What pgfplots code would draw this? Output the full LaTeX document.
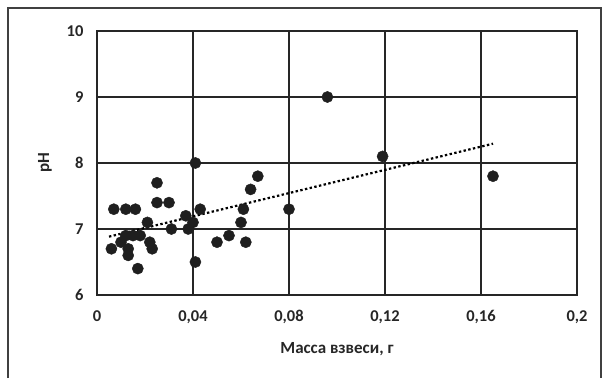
\documentclass[border=0pt]{standalone}
\usepackage{pgfplots}
\pgfplotsset{compat=1.18}
\usepackage{fontspec}
\setmainfont{Carlito}
\begin{document}
\begin{tikzpicture}
\path[use as bounding box] (0pt,0pt) rectangle (608pt,378pt);
\draw[black!75, line width=1.3pt] (8pt,0pt) -- (8pt,370pt) -- (601pt,370pt) -- (601pt,0pt);
\begin{axis}[at={(97pt,83pt)}, anchor=south west, scale only axis,
  width=480pt, height=264pt,
  xmin=0, xmax=0.2, ymin=6, ymax=10,
  xtick={0,0.04,0.08,0.12,0.16,0.2},
  xticklabels={0,{0,04},{0,08},{0,12},{0,16},{0,2}},
  ytick={6,7,8,9,10},
  yticklabels={6,7,8,9,10},
  grid=major,
  major grid style={black!85, line width=1.4pt},
  axis line style={black!85, line width=1.4pt},
  major tick length=0pt,
  tick label style={font=\fontsize{16.5}{19}\selectfont\bfseries, text=black!85},
  xticklabel style={yshift=-12pt},
  yticklabel style={xshift=-10pt},
  clip=false,
]
\addplot[black, line width=2.2pt, dash pattern=on 2.4pt off 2.4pt] coordinates {(0.005,6.884) (0.165,8.292)};
\addplot[only marks, mark=*, mark size=5.6pt, mark options={fill=black!88, draw=black!88}] coordinates {
(0.007,7.3) (0.012,7.3) (0.016,7.3) (0.025,7.7) (0.025,7.4) (0.030,7.4)
(0.021,7.1) (0.031,7.0) (0.012,6.9) (0.015,6.9) (0.018,6.9) (0.006,6.7)
(0.010,6.8) (0.013,6.7) (0.013,6.6) (0.022,6.8) (0.023,6.7) (0.017,6.4)
(0.037,7.2) (0.040,7.1) (0.038,7.0) (0.041,8.0) (0.043,7.3) (0.041,6.5)
(0.050,6.8) (0.055,6.9) (0.062,6.8) (0.060,7.1) (0.061,7.3) (0.064,7.6)
(0.067,7.8) (0.080,7.3) (0.096,9.0) (0.119,8.1) (0.165,7.8)
};
\end{axis}
\node[rotate=90, font=\fontsize{17}{20}\selectfont\bfseries, text=black!85] at (45pt,215pt) {pH};
\node[font=\fontsize{17}{20}\selectfont\bfseries, text=black!85] at (337pt,29pt) {Масса взвеси, г};
\end{tikzpicture}
\end{document}
